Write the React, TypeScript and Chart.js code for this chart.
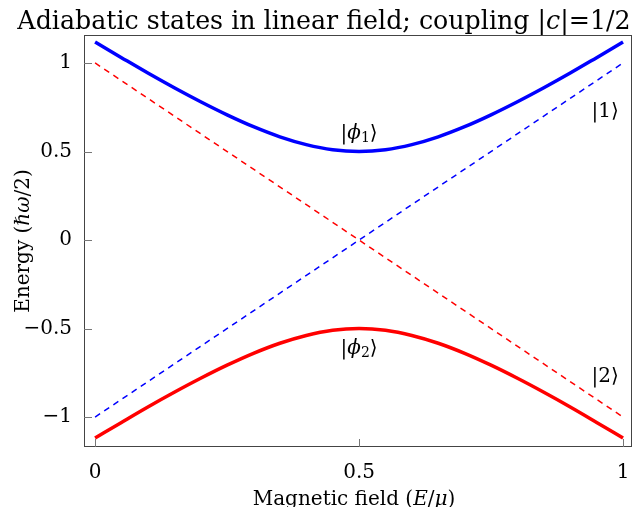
import React, { useEffect, useRef } from "react";
import { Chart, registerables } from "chart.js";

Chart.register(...registerables);

// Magnetic field samples (E/μ) for the adiabatic curves
const fieldX = [0, 0.05, 0.1, 0.15, 0.2, 0.25, 0.3, 0.35, 0.4, 0.45, 0.5, 0.55, 0.6, 0.65, 0.7, 0.75, 0.8, 0.85, 0.9, 0.95, 1];
// Upper adiabatic state |φ1⟩ energy (ħω/2)
const phi1Energy = [1.118, 1.03, 0.943, 0.86, 0.781, 0.707, 0.64, 0.583, 0.539, 0.51, 0.5, 0.51, 0.539, 0.583, 0.64, 0.707, 0.781, 0.86, 0.943, 1.03, 1.118];
// Lower adiabatic state |φ2⟩ energy (ħω/2)
const phi2Energy = [-1.118, -1.03, -0.943, -0.86, -0.781, -0.707, -0.64, -0.583, -0.539, -0.51, -0.5, -0.51, -0.539, -0.583, -0.64, -0.707, -0.781, -0.86, -0.943, -1.03, -1.118];
// Diabatic (uncoupled) states
const diabaticX = [0, 1];
const state1Energy = [-1, 1];
const state2Energy = [1, -1];

const xTicks = [0, 0.5, 1];
const yTicks = [-1, -0.5, 0, 0.5, 1];

// State labels placed in data coordinates
const stateLabels = [
  { x: 0.966, y: 0.734, main: "1", sub: "", italic: false },
  { x: 0.966, y: -0.763, main: "2", sub: "", italic: false },
  { x: 0.5, y: 0.61, main: "ϕ", sub: "1", italic: true },
  { x: 0.5, y: -0.605, main: "ϕ", sub: "2", italic: true },
];

const SERIF = '"DejaVu Serif", serif';

type Run = { t: string; font: string; dy?: number };

function drawRuns(ctx: CanvasRenderingContext2D, runs: Run[], x: number, y: number) {
  let total = 0;
  for (const r of runs) {
    ctx.font = r.font;
    total += ctx.measureText(r.t).width;
  }
  let cx = x - total / 2;
  ctx.textAlign = "left";
  for (const r of runs) {
    ctx.font = r.font;
    ctx.fillText(r.t, cx, y + (r.dy || 0));
    cx += ctx.measureText(r.t).width;
  }
}

const fmt = (v: number) => (v < 0 ? "\u2212" + String(-v) : String(v));

const framePlugin = {
  id: "frameAndText",
  afterDraw(chart: any) {
    const { ctx, chartArea: a, scales } = chart;
    const xs = scales.x;
    const ys = scales.y;
    ctx.save();
    // frame
    ctx.strokeStyle = "#444";
    ctx.lineWidth = 1;
    ctx.strokeRect(a.left + 0.5, a.top + 0.5, a.right - a.left - 1, a.bottom - a.top - 1);
    // inward tick marks
    ctx.strokeStyle = "#777";
    ctx.beginPath();
    for (const v of xTicks) {
      const px = Math.round(xs.getPixelForValue(v)) + 0.5;
      ctx.moveTo(px, a.bottom);
      ctx.lineTo(px, a.bottom - 8);
    }
    for (const v of yTicks) {
      const py = Math.round(ys.getPixelForValue(v)) + 0.5;
      ctx.moveTo(a.left, py);
      ctx.lineTo(a.left + 8, py);
    }
    ctx.stroke();

    ctx.fillStyle = "#000";
    ctx.textBaseline = "alphabetic";
    // state kets
    for (const l of stateLabels) {
      const px = xs.getPixelForValue(l.x);
      const py = ys.getPixelForValue(l.y) + 7;
      const runs: Run[] = [{ t: "|", font: `20px ${SERIF}` }];
      runs.push({ t: l.main, font: `${l.italic ? "italic " : ""}20px ${SERIF}` });
      if (l.sub) runs.push({ t: l.sub, font: `14px ${SERIF}`, dy: 3 });
      runs.push({ t: "\u27E9", font: `20px ${SERIF}` });
      drawRuns(ctx, runs, px, py);
    }

    // title
    drawRuns(
      ctx,
      [
        { t: "Adiabatic states in linear field; coupling |", font: `25.3px ${SERIF}` },
        { t: "c", font: `italic 25.3px ${SERIF}` },
        { t: "|=1/2", font: `25.3px ${SERIF}` },
      ],
      324,
      29
    );

    // x-axis title
    drawRuns(
      ctx,
      [
        { t: "Magnetic field (", font: `20px ${SERIF}` },
        { t: "E", font: `italic 20px ${SERIF}` },
        { t: "/", font: `20px ${SERIF}` },
        { t: "μ", font: `italic 20px ${SERIF}` },
        { t: ")", font: `20px ${SERIF}` },
      ],
      (a.left + a.right) / 2 - 4,
      505
    );

    // y-axis title
    ctx.translate(29, (a.top + a.bottom) / 2);
    ctx.rotate(-Math.PI / 2);
    drawRuns(
      ctx,
      [
        { t: "Energy (", font: `20px ${SERIF}` },
        { t: "ℏω", font: `italic 20px ${SERIF}` },
        { t: "/2)", font: `20px ${SERIF}` },
      ],
      0,
      0
    );
    ctx.restore();
  },
};

export default function App() {
  const ref = useRef<HTMLCanvasElement | null>(null);

  useEffect(() => {
    if (!ref.current) return;
    const pts = (xs: number[], ys: number[]) => xs.map((x, i) => ({ x, y: ys[i] }));
    const chart = new Chart(ref.current, {
      type: "line",
      data: {
        datasets: [
          {
            label: "|1⟩",
            data: pts(diabaticX, state1Energy),
            borderColor: "#0000ff",
            borderWidth: 1.5,
            borderDash: [6, 5],
            pointRadius: 0,
          },
          {
            label: "|2⟩",
            data: pts(diabaticX, state2Energy),
            borderColor: "#ff0000",
            borderWidth: 1.5,
            borderDash: [6, 5],
            pointRadius: 0,
          },
          {
            label: "|φ1⟩",
            data: pts(fieldX, phi1Energy),
            borderColor: "#0000ff",
            borderWidth: 3.5,
            pointRadius: 0,
            cubicInterpolationMode: "monotone",
          },
          {
            label: "|φ2⟩",
            data: pts(fieldX, phi2Energy),
            borderColor: "#ff0000",
            borderWidth: 3.5,
            pointRadius: 0,
            cubicInterpolationMode: "monotone",
          },
        ],
      },
      options: {
        animation: false,
        responsive: false,
        layout: { padding: { left: 0, top: 35, right: 2, bottom: 0 } },
        plugins: { legend: { display: false }, tooltip: { enabled: false }, title: { display: false } },
        scales: {
          x: {
            type: "linear",
            min: -0.021,
            max: 1.017,
            grid: { display: false },
            border: { display: false },
            afterBuildTicks: (axis: any) => {
              axis.ticks = xTicks.map((v) => ({ value: v }));
            },
            afterFit: (s: any) => {
              s.height = 60;
              s.paddingLeft = 0;
              s.paddingRight = 0;
            },
            ticks: {
              color: "#000",
              padding: 6,
              maxRotation: 0,
              autoSkip: false,
              font: { family: SERIF, size: 20 },
              callback: (v: any) => fmt(Number(v)),
            },
          },
          y: {
            type: "linear",
            min: -1.169,
            max: 1.158,
            grid: { display: false },
            border: { display: false },
            afterBuildTicks: (axis: any) => {
              axis.ticks = yTicks.map((v) => ({ value: v }));
            },
            afterFit: (s: any) => {
              s.width = 84;
              s.paddingTop = 0;
              s.paddingBottom = 0;
            },
            ticks: {
              color: "#000",
              padding: 4,
              autoSkip: false,
              font: { family: SERIF, size: 20 },
              callback: (v: any) => fmt(Number(v)),
            },
          },
        },
      },
      plugins: [framePlugin],
    });
    return () => chart.destroy();
  }, []);

  return (
    <div style={{ position: "fixed", left: 0, top: 0, width: 634, height: 507, background: "#fff" }}>
      <canvas ref={ref} width={634} height={507} style={{ display: "block" }} />
    </div>
  );
}
